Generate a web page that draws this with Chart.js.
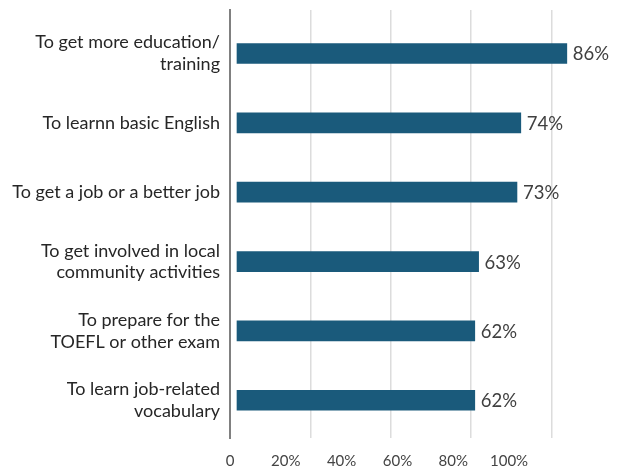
<!DOCTYPE html>
<html>
<head>
<meta charset="utf-8">
<script src="https://cdn.jsdelivr.net/npm/chart.js@4.4.0/dist/chart.umd.min.js"></script>
<style>
    html, body { margin: 0; padding: 0; background: #fff; }
    #wrap { width: 628px; height: 467px; }
</style>
</head>
<body>
<div id="wrap"><canvas id="chart"></canvas></div>
<script>
// Reasons for taking English classes
const categories = [
    ['To get more education/', 'training'],
    'To learnn basic English',
    'To get a job or a better job',
    ['To get involved in local', 'community activities'],
    ['To prepare for the', 'TOEFL or other exam'],
    ['To learn job-related', 'vocabulary']
];
const percentValues = [86, 74, 73, 63, 62, 62];
const tickValues = [0, 20, 40, 60, 80, 100];
const tickLabels = ['0', '20%', '40%', '60%', '80%', '100%'];
const gridValues = [20, 40, 60, 80];

// Percent labels to the right of each bar
const valueLabels = {
    id: 'valueLabels',
    afterDatasetsDraw(chart) {
        const ctx = chart.ctx;
        const meta = chart.getDatasetMeta(0);
        ctx.save();
        ctx.font = '18.5px Lato';
        ctx.fillStyle = '#404040';
        ctx.textBaseline = 'middle';
        meta.data.forEach((bar, i) => {
            ctx.fillText(percentValues[i] + '%', bar.x + 6, bar.y + 1);
        });
        ctx.restore();
    }
};

new Chart(document.getElementById('chart'), {
    type: 'bar',
    data: {
        datasets: [{
            data: percentValues.map((v, i) => ({ x: v, y: i })),
            backgroundColor: '#1a5a7b',
            barThickness: 20,
            xAxisID: 'x',
            yAxisID: 'y'
        }]
    },
    options: {
        indexAxis: 'y',
        responsive: true,
        maintainAspectRatio: false,
        animation: false,
        layout: { padding: { top: 10, right: 2, left: 0, bottom: 0 } },
        plugins: {
            legend: { display: false },
            tooltip: { enabled: false }
        },
        scales: {
            x: { type: 'linear', bounds: 'data', min: -1.825, max: 101.43, display: false },
            xGrid: {
                type: 'linear',
                bounds: 'data',
                position: 'top',
                min: 0,
                max: 98.6,
                grid: { color: '#dcdcdc', lineWidth: 1.5, drawTicks: false },
                border: { display: false },
                ticks: { display: false },
                afterBuildTicks: s => { s.ticks = gridValues.map(v => ({ value: v })); },
                afterFit: s => { s.height = 0; }
            },
            xTicks: {
                type: 'linear',
                bounds: 'data',
                position: 'bottom',
                min: 0,
                max: 141.9,
                grid: { display: false, drawTicks: false },
                border: { display: false },
                ticks: {
                    font: { family: 'Lato', size: 15 },
                    color: '#444',
                    padding: 14,
                    maxRotation: 0,
                    autoSkip: false,
                    callback: (v, i) => tickLabels[i]
                },
                afterBuildTicks: s => { s.ticks = tickValues.map(v => ({ value: v })); },
                afterFit: s => { s.height = 29; s.paddingLeft = 0; s.paddingRight = 0; }
            },
            y: {
                type: 'linear',
                bounds: 'data',
                offset: false,
                reverse: true,
                min: -0.627,
                max: 5.544,
                grid: { display: false, drawTicks: false, offset: false },
                border: { display: true, color: '#808080', width: 2 },
                ticks: {
                    font: { family: 'Lato', size: 18 },
                    color: '#262626',
                    padding: 10,
                    autoSkip: false,
                    callback: v => categories[v]
                },
                afterBuildTicks: s => { s.ticks = categories.map((c, i) => ({ value: i })); },
                afterFit: s => { s.width = 230; s.paddingTop = 0; s.paddingBottom = 0; }
            }
        }
    },
    plugins: [valueLabels]
});
</script>
</body>
</html>
